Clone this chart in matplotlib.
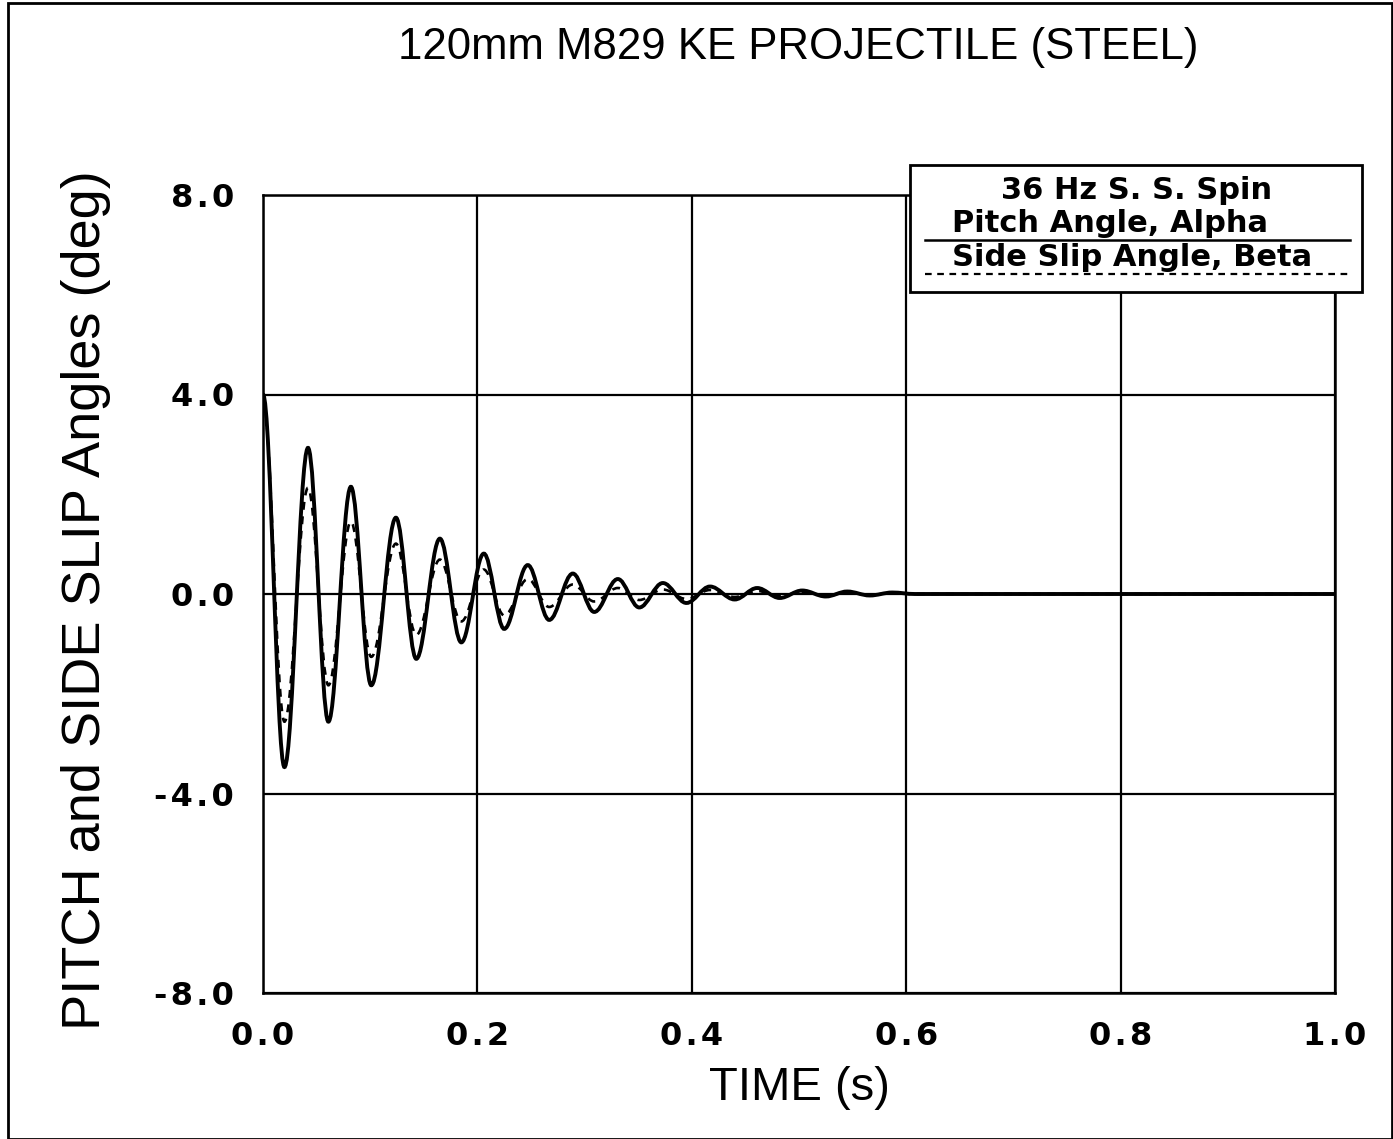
import matplotlib
matplotlib.use("Agg")
import matplotlib.pyplot as plt
from matplotlib.path import Path
from matplotlib.patches import PathPatch, Rectangle
from matplotlib.lines import Line2D

# Turning points (time in s, angle in deg) of the two angle histories
t_alpha = [0.000, 0.020, 0.042, 0.061, 0.082, 0.101, 0.124, 0.143, 0.165, 0.185,
           0.206, 0.225, 0.247, 0.267, 0.289, 0.309, 0.331, 0.351, 0.373, 0.395,
           0.417, 0.440, 0.461, 0.482, 0.503, 0.525, 0.545, 0.566, 0.587, 0.608, 1.000]
alpha = [4.00, -3.47, 2.93, -2.56, 2.15, -1.83, 1.53, -1.30, 1.11, -0.97,
         0.81, -0.70, 0.58, -0.52, 0.41, -0.36, 0.30, -0.27, 0.22, -0.18,
         0.15, -0.11, 0.12, -0.08, 0.07, -0.05, 0.05, -0.03, 0.03, 0.00, 0.00]

t_beta = [0.000, 0.020, 0.042, 0.061, 0.082, 0.101, 0.124, 0.143, 0.165, 0.185,
          0.206, 0.225, 0.247, 0.267, 0.289, 0.309, 0.331, 0.351, 0.373, 0.395,
          0.417, 0.440, 0.461, 0.482, 0.503, 0.525, 0.545, 0.566, 0.587, 0.608, 1.000]
beta = [3.90, -2.56, 2.13, -1.83, 1.45, -1.26, 1.01, -0.82, 0.69, -0.55,
        0.49, -0.43, 0.30, -0.26, 0.19, -0.15, 0.12, -0.12, 0.09, -0.10,
        0.08, -0.06, 0.06, -0.04, 0.04, -0.03, 0.03, -0.02, 0.02, 0.00, 0.00]

x_ticks = [0.0, 0.2, 0.4, 0.6, 0.8, 1.0]
x_tick_labels = ["0.0", "0.2", "0.4", "0.6", "0.8", "1.0"]
y_ticks = [-8.0, -4.0, 0.0, 4.0, 8.0]
y_tick_labels = ["-8.0", "-4.0", "0.0", "4.0", "8.0"]

title = "120mm M829 KE PROJECTILE (STEEL)"
x_label = "TIME (s)"
y_label = "PITCH and SIDE SLIP Angles (deg)"
legend_title = "36 Hz S. S. Spin"
alpha_label = "Pitch Angle, Alpha"
beta_label = "Side Slip Angle, Beta"

label_font = ["Liberation Sans", "DejaVu Sans"]
HS = "\u200a"  # hair space for the spaced-out tick numerals


def spaced(s):
    return HS.join(s)


W, H = 1393, 1139
fig = plt.figure(figsize=(W / 100, H / 100), dpi=100)
fig.patch.set_facecolor("white")

# outer frame
fig.add_artist(Rectangle((8 / W, 0.0), 1 - 9 / W, 1 - 3 / H, transform=fig.transFigure,
                         fill=False, edgecolor="black", lw=2.0))

ax = fig.add_axes([263 / W, 1 - 993 / H, (1335 - 263) / W, (993 - 195) / H])
ax.set_xlim(0, 1.0)
ax.set_ylim(-8, 8)
ax.set_xticks(x_ticks)
ax.set_xticklabels([spaced(s) for s in x_tick_labels])
ax.set_yticks(y_ticks)
ax.set_yticklabels([spaced(s) for s in y_tick_labels])
ax.tick_params(length=0, labelsize=23, pad=20)
ax.tick_params(axis="y", pad=21)
for lab in ax.get_xticklabels() + ax.get_yticklabels():
    lab.set_fontweight("bold")
    lab.set_family("DejaVu Sans")
for s in ax.spines.values():
    s.set_linewidth(1.8)
ax.grid(True, color="black", lw=1.6)
ax.set_axisbelow(True)


def smooth_path(t, v, k=0.364):
    """Cubic Bezier path with level tangents at each turning point."""
    verts = [(t[0], v[0])]
    codes = [Path.MOVETO]
    for i in range(len(t) - 1):
        dt = t[i + 1] - t[i]
        verts += [(t[i] + k * dt, v[i]), (t[i + 1] - k * dt, v[i + 1]), (t[i + 1], v[i + 1])]
        codes += [Path.CURVE4] * 3
    return Path(verts, codes)


ax.add_patch(PathPatch(smooth_path(t_alpha, alpha), fill=False, edgecolor="black",
                       lw=2.8, zorder=3))
ax.add_patch(PathPatch(smooth_path(t_beta, beta), fill=False, edgecolor="black",
                       lw=1.9, linestyle=(0, (3, 2.5)), zorder=4))

# titles
fig.text(798 / W, 1 - 48 / H, title, ha="center", va="center", fontsize=31.5, family=label_font)
fig.text(799 / W, 1 - 1088 / H, x_label, ha="center", va="center", fontsize=34, family=label_font)
fig.text(86 / W, 1 - 600 / H, y_label, ha="center", va="center", rotation=90,
         fontsize=39, family=label_font)

# legend box
lx0, lx1, ly0, ly1 = 910, 1362, 165, 292
fig.add_artist(Rectangle((lx0 / W, 1 - ly1 / H), (lx1 - lx0) / W, (ly1 - ly0) / H,
                         transform=fig.transFigure, facecolor="white", edgecolor="black",
                         lw=2.0, zorder=5))
fig.text(1137 / W, 1 - 190 / H, legend_title, ha="center", va="center", fontsize=22,
         fontweight="bold", zorder=6)
fig.text(952 / W, 1 - 223 / H, alpha_label, ha="left", va="center", fontsize=22,
         fontweight="bold", zorder=6)
fig.text(952 / W, 1 - 257 / H, beta_label, ha="left", va="center", fontsize=22,
         fontweight="bold", zorder=6)
fig.add_artist(Line2D([925 / W, 1350 / W], [1 - 240 / H, 1 - 240 / H], transform=fig.transFigure,
                      color="black", lw=1.8, zorder=6))
fig.add_artist(Line2D([925 / W, 1350 / W], [1 - 274 / H, 1 - 274 / H], transform=fig.transFigure,
                      color="black", lw=1.6, linestyle=(0, (3, 2.5)), zorder=6))

fig.savefig("out.png", dpi=100)
